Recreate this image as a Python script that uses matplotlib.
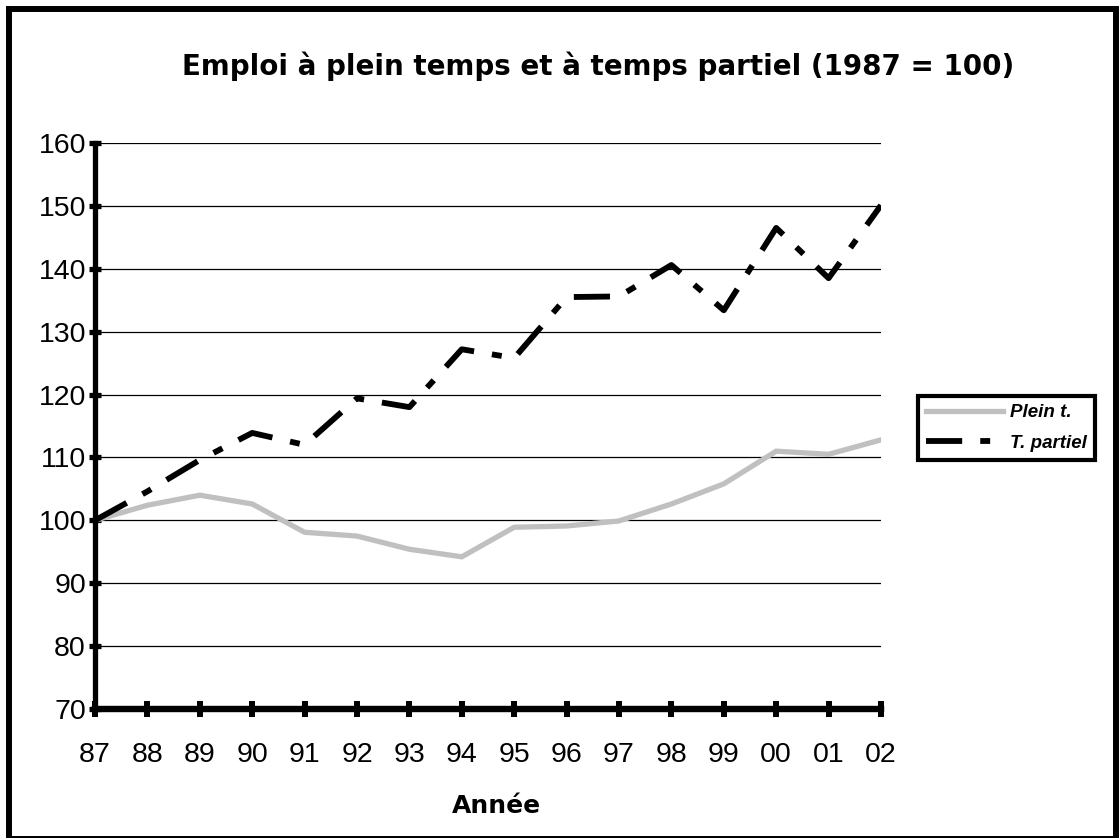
import matplotlib
matplotlib.use("Agg")
import matplotlib.pyplot as plt
from matplotlib.patches import Rectangle

years = ["87", "88", "89", "90", "91", "92", "93", "94", "95", "96", "97", "98", "99", "00", "01", "02"]
plein = [100, 102.4, 104.0, 102.6, 98.1, 97.5, 95.4, 94.2, 98.9, 99.1, 99.9, 102.6, 105.8, 111.0, 110.5, 112.8]
partiel = [100, 104.6, 109.6, 113.9, 112.0, 119.4, 118.0, 127.2, 125.8, 135.5, 135.6, 140.6, 133.4, 146.5, 138.5, 150.1]
yticks = [70, 80, 90, 100, 110, 120, 130, 140, 150, 160]

W, H = 1119, 838
fig = plt.figure(figsize=(W / 100, H / 100), dpi=100)
ax = fig.add_axes([95 / W, 1 - 709 / H, (881 - 95) / W, (709 - 143) / H])

x = list(range(len(years)))
ax.plot(x, plein, color="#c0c0c0", lw=3.8, solid_joinstyle="miter", label="Plein t.", zorder=3)
ax.plot(x, partiel, color="black", lw=4.2, ls=(0, (6.2, 3.1, 1.7, 3.1)), dash_capstyle="butt",
        label="T. partiel", zorder=4)

ax.set_xlim(0, len(years) - 1)
ax.set_ylim(70, 160)
ax.set_xticks(x)
ax.set_xticklabels(years)
ax.set_yticks(yticks)
ax.set_yticklabels([str(v) for v in yticks])
for v in yticks[1:]:
    ax.axhline(v, color="black", lw=0.9, zorder=1)

for s in ["top", "right"]:
    ax.spines[s].set_visible(False)
ax.spines["left"].set_linewidth(3.8)
ax.spines["bottom"].set_linewidth(4.6)
for s in ["left", "bottom"]:
    ax.spines[s].set_zorder(5)
ax.tick_params(axis="x", direction="inout", length=12, width=4.3, pad=18, labelsize=20.5)
ax.tick_params(axis="y", direction="inout", length=9, width=3.8, pad=2, labelsize=20.5)
for lab in ax.get_xticklabels() + ax.get_yticklabels():
    lab.set_fontfamily("Liberation Sans")

fig.text(598 / W, 1 - 66 / H, "Emploi à plein temps et à temps partiel (1987 = 100)",
         ha="center", va="center", fontsize=20, fontweight="bold", family="DejaVu Sans")
fig.text(496 / W, 1 - 806 / H, "Année", ha="center", va="center", fontsize=18,
         fontweight="bold", family="DejaVu Sans")

leg = fig.legend(loc="center left", bbox_to_anchor=(918 / W, 1 - 428 / H),
                 prop={"family": "Liberation Sans", "weight": "bold", "style": "italic", "size": 13.5},
                 handlelength=4.1, fancybox=False, framealpha=1, borderpad=0.45,
                 handletextpad=0.35, labelspacing=0.7, borderaxespad=0)
leg.get_frame().set_edgecolor("black")
leg.get_frame().set_linewidth(3)

fig.patches.append(Rectangle((9 / W, -1 / H), (1116 - 9) / W, (838 - 8) / H, transform=fig.transFigure,
                             fill=False, edgecolor="black", lw=4.3))

fig.savefig("out.png", dpi=100, facecolor="white")
